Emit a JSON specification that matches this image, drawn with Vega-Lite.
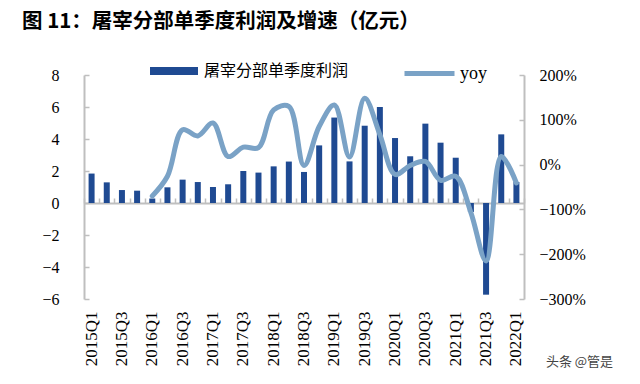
{
  "$schema": "https://vega.github.io/schema/vega-lite/v6.json",
  "width": 440,
  "height": 224,
  "autosize": {"type": "none"},
  "padding": {"left": 84, "top": 75, "right": 116, "bottom": 85},
  "background": "white",
  "title": {
    "text": "图 11：屠宰分部单季度利润及增速（亿元）",
    "anchor": "start",
    "frame": "group",
    "dx": -62,
    "offset": 14,
    "font": "Noto Sans CJK SC",
    "fontSize": 20.5,
    "fontWeight": "bold",
    "color": "#000000"
  },
  "data": {
    "values": [
      {"quarter": "2015Q1", "profit": 1.84, "yoy": null},
      {"quarter": "2015Q2", "profit": 1.29, "yoy": null},
      {"quarter": "2015Q3", "profit": 0.81, "yoy": null},
      {"quarter": "2015Q4", "profit": 0.77, "yoy": null},
      {"quarter": "2016Q1", "profit": 0.28, "yoy": -70},
      {"quarter": "2016Q2", "profit": 0.98, "yoy": -26},
      {"quarter": "2016Q3", "profit": 1.46, "yoy": 78},
      {"quarter": "2016Q4", "profit": 1.31, "yoy": 64},
      {"quarter": "2017Q1", "profit": 1.0, "yoy": 93},
      {"quarter": "2017Q2", "profit": 1.17, "yoy": 18},
      {"quarter": "2017Q3", "profit": 2.0, "yoy": 39},
      {"quarter": "2017Q4", "profit": 1.9, "yoy": 38},
      {"quarter": "2018Q1", "profit": 2.29, "yoy": 122},
      {"quarter": "2018Q2", "profit": 2.59, "yoy": 130},
      {"quarter": "2018Q3", "profit": 1.94, "yoy": -2},
      {"quarter": "2018Q4", "profit": 3.6, "yoy": 85},
      {"quarter": "2019Q1", "profit": 5.34, "yoy": 133},
      {"quarter": "2019Q2", "profit": 2.6, "yoy": 17},
      {"quarter": "2019Q3", "profit": 4.83, "yoy": 148},
      {"quarter": "2019Q4", "profit": 6.0, "yoy": 67},
      {"quarter": "2020Q1", "profit": 4.06, "yoy": -22},
      {"quarter": "2020Q2", "profit": 2.92, "yoy": -2},
      {"quarter": "2020Q3", "profit": 4.96, "yoy": 7},
      {"quarter": "2020Q4", "profit": 3.77, "yoy": -35},
      {"quarter": "2021Q1", "profit": 2.83, "yoy": -26},
      {"quarter": "2021Q2", "profit": -0.56, "yoy": -107},
      {"quarter": "2021Q3", "profit": -5.73, "yoy": -215},
      {"quarter": "2021Q4", "profit": 4.29, "yoy": 18},
      {"quarter": "2022Q1", "profit": 1.31, "yoy": -41}
    ]
  },
  "config": {
    "view": {"stroke": null},
    "axis": {
      "grid": false,
      "domainColor": "#bfbfbf",
      "tickColor": "#bfbfbf",
      "domainWidth": 2,
      "tickWidth": 1.5,
      "labelColor": "#000000",
      "labelFont": "Liberation Serif",
      "labelFontSize": 16,
      "titleFont": "Noto Sans CJK SC"
    },
    "legend": {
      "labelFont": "Noto Sans CJK SC",
      "labelFontSize": 16,
      "labelColor": "#000000",
      "padding": 0
    }
  },
  "resolve": {
    "scale": {"y": "independent"},
    "axis": {"x": "independent", "y": "independent"}
  },
  "layer": [
    {
      "mark": {"type": "bar", "size": 6},
      "encoding": {
        "x": {
          "field": "quarter",
          "type": "nominal",
          "sort": null,
          "scale": {"type": "band", "paddingInner": 0, "paddingOuter": 0},
          "axis": {
            "orient": "bottom",
            "domain": false,
            "ticks": false,
            "labelAngle": -90,
            "labelAlign": "right",
            "labelBaseline": "middle",
            "labelPadding": 12,
            "labelFontSize": 17,
            "labelExpr": "indexof(['2015Q1','2015Q3','2016Q1','2016Q3','2017Q1','2017Q3','2018Q1','2018Q3','2019Q1','2019Q3','2020Q1','2020Q3','2021Q1','2021Q3','2022Q1'], datum.value) >= 0 ? datum.value : ''",
            "title": "头条 @管是",
            "titleFontSize": 13,
            "titleFontWeight": "normal",
            "titleColor": "#444444",
            "titleX": 495,
            "titleY": 62,
            "titleAlign": "center",
            "titleBaseline": "middle"
          }
        },
        "y": {
          "field": "profit",
          "type": "quantitative",
          "scale": {"domain": [-6, 8], "nice": false, "zero": false},
          "axis": {
            "orient": "left",
            "values": [-6, -4, -2, 0, 2, 4, 6, 8],
            "title": null,
            "tickSize": -5,
            "labelPadding": 30,
            "labelExpr": "replace(datum.value + '', '-', '−')"
          }
        },
        "fill": {
          "datum": "屠宰分部单季度利润",
          "scale": {"range": ["#1f4a92"]},
          "legend": {
            "orient": "none",
            "legendX": 66,
            "legendY": -28,
            "title": null,
            "symbolType": "M-1,-0.17H1V0.17H-1Z",
            "symbolSize": 2304,
            "symbolStrokeWidth": 0,
            "labelOffset": 6
          }
        }
      }
    },
    {
      "mark": {"type": "line", "interpolate": "catmull-rom", "strokeWidth": 5, "strokeCap": "round"},
      "encoding": {
        "x": {
          "field": "quarter",
          "type": "nominal",
          "sort": null,
          "axis": {
            "orient": "top",
            "offset": -128,
            "labels": false,
            "tickBand": "extent",
            "tickSize": 5,
            "title": null
          }
        },
        "y": {
          "field": "yoy",
          "type": "quantitative",
          "scale": {"domain": [-300, 200], "nice": false, "zero": false},
          "axis": {
            "orient": "right",
            "values": [-300, -200, -100, 0, 100, 200],
            "title": null,
            "tickSize": -5,
            "labelPadding": 20,
            "labelExpr": "replace(datum.value + '%', '-', '−')"
          }
        },
        "stroke": {
          "datum": "yoy",
          "scale": {"range": ["#7aa2c6"]},
          "legend": {
            "orient": "none",
            "legendX": 318,
            "legendY": -29,
            "title": null,
            "symbolType": "stroke",
            "symbolSize": 2500,
            "symbolStrokeWidth": 5,
            "labelOffset": 3,
            "labelFont": "Liberation Serif",
            "labelFontSize": 18
          }
        }
      }
    }
  ]
}
